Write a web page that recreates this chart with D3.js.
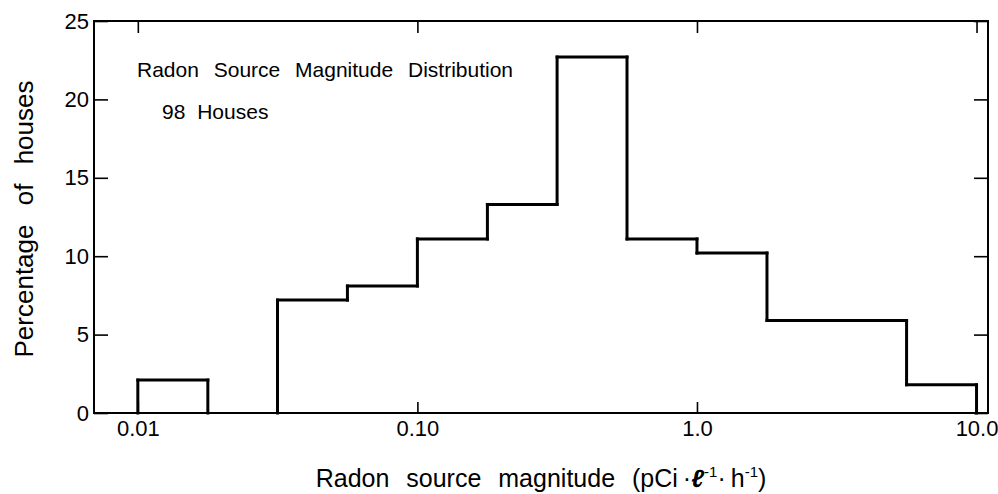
<!DOCTYPE html>
<html>
<head>
<meta charset="utf-8">
<script src="https://cdn.jsdelivr.net/npm/d3@7"></script>
<style>
  body { margin: 0; background: #fff; }
  text { font-family: "Liberation Sans", Arial, sans-serif; fill: #000; }
</style>
</head>
<body>
<script>
var width = 998,
  height = 494

// histogram: quarter-decade bins of radon source magnitude
var binEdges = [0.01, 0.0178, 0.0316, 0.0562, 0.1, 0.178, 0.316, 0.562, 1.0, 1.78, 3.16, 5.62, 10.0]
var percentHouses = [2.1, 0, 7.2, 8.1, 11.1, 13.3, 22.7, 11.1, 10.2, 5.9, 5.9, 1.8]

var xTicks = [0.01, 0.1, 1, 10]
var xTickLabels = ['0.01', '0.10', '1.0', '10.0']
var yTicks = [0, 5, 10, 15, 20, 25]

var margin = {left: 94, right: 10, top: 21, bottom: 81}
var plotW = width - margin.left - margin.right,
  plotH = height - margin.top - margin.bottom

var x = d3.scaleLog()
  .domain([0.00697, 10.99])
  .range([0, plotW])

var y = d3.scaleLinear()
  .domain([0, 25])
  .range([plotH, 0])

var svg = d3.select('body').append('svg')
  .attr('width', width)
  .attr('height', height)

var g = svg.append('g')
  .attr('transform', 'translate(' + margin.left + ',' + margin.top + ')')

// axes with inward ticks on all four sides
var fmtX = function (d) { return xTickLabels[xTicks.indexOf(d)] }

g.append('g')
  .attr('transform', 'translate(0,' + plotH + ')')
  .call(d3.axisBottom(x).tickValues(xTicks).tickFormat(fmtX).tickSize(-11).tickPadding(7))
g.append('g')
  .call(d3.axisTop(x).tickValues(xTicks).tickFormat('').tickSize(-12))
g.append('g')
  .call(d3.axisLeft(y).tickValues(yTicks).tickSize(-14).tickPadding(5))
g.append('g')
  .attr('transform', 'translate(' + plotW + ',0)')
  .call(d3.axisRight(y).tickValues(yTicks).tickFormat('').tickSize(-14))

g.selectAll('.domain').remove()
g.selectAll('.tick line').attr('stroke', '#000').attr('stroke-width', 1.6)
g.selectAll('.tick text').style('font-size', '22px').attr('fill', '#000')

g.append('rect')
  .attr('width', plotW)
  .attr('height', plotH)
  .attr('fill', 'none')
  .attr('stroke', '#000')
  .attr('stroke-width', 2)

// step outline of the histogram (no thick line along the baseline)
var segs = []
binEdges.forEach(function (e, i) {
  var prev = i > 0 ? percentHouses[i - 1] : 0
  var next = i < percentHouses.length ? percentHouses[i] : 0
  if (prev !== next) segs.push([[e, prev], [e, next]])
})
percentHouses.forEach(function (v, i) {
  if (v > 0) segs.push([[binEdges[i], v], [binEdges[i + 1], v]])
})

var line = d3.line()
  .x(function (d) { return x(d[0]) })
  .y(function (d) { return y(d[1]) })

g.selectAll('.step')
  .data(segs)
  .enter().append('path')
  .attr('class', 'step')
  .attr('d', line)
  .attr('fill', 'none')
  .attr('stroke', '#000')
  .attr('stroke-width', 3)
  .attr('stroke-linecap', 'square')

// annotation
g.append('text')
  .attr('x', 137 - margin.left)
  .attr('y', 77 - margin.top)
  .style('font-size', '21px')
  .style('word-spacing', '9px')
  .text('Radon Source Magnitude Distribution')

g.append('text')
  .attr('x', 162 - margin.left)
  .attr('y', 119 - margin.top)
  .style('font-size', '21px')
  .style('word-spacing', '6px')
  .text('98 Houses')

// axis titles
var xl = svg.append('text')
  .attr('x', 541)
  .attr('y', 487)
  .attr('text-anchor', 'middle')
  .style('font-size', '25px')
  .style('word-spacing', '10px')
xl.append('tspan').text('Radon source magnitude (pCi\u2009\u00b7')
xl.append('tspan').style('font-style', 'italic').style('font-weight', 'bold').text('\u2113')
xl.append('tspan').attr('dy', -10).style('font-size', '15px').text('-1')
xl.append('tspan').attr('dy', 10).text('\u00b7\u2009h')
xl.append('tspan').attr('dy', -10).style('font-size', '15px').text('-1')
xl.append('tspan').attr('dy', 10).text(')')

svg.append('text')
  .attr('transform', 'translate(33,219) rotate(-90)')
  .attr('text-anchor', 'middle')
  .style('font-size', '26px')
  .style('word-spacing', '12px')
  .text('Percentage of houses')
</script>
</body>
</html>
